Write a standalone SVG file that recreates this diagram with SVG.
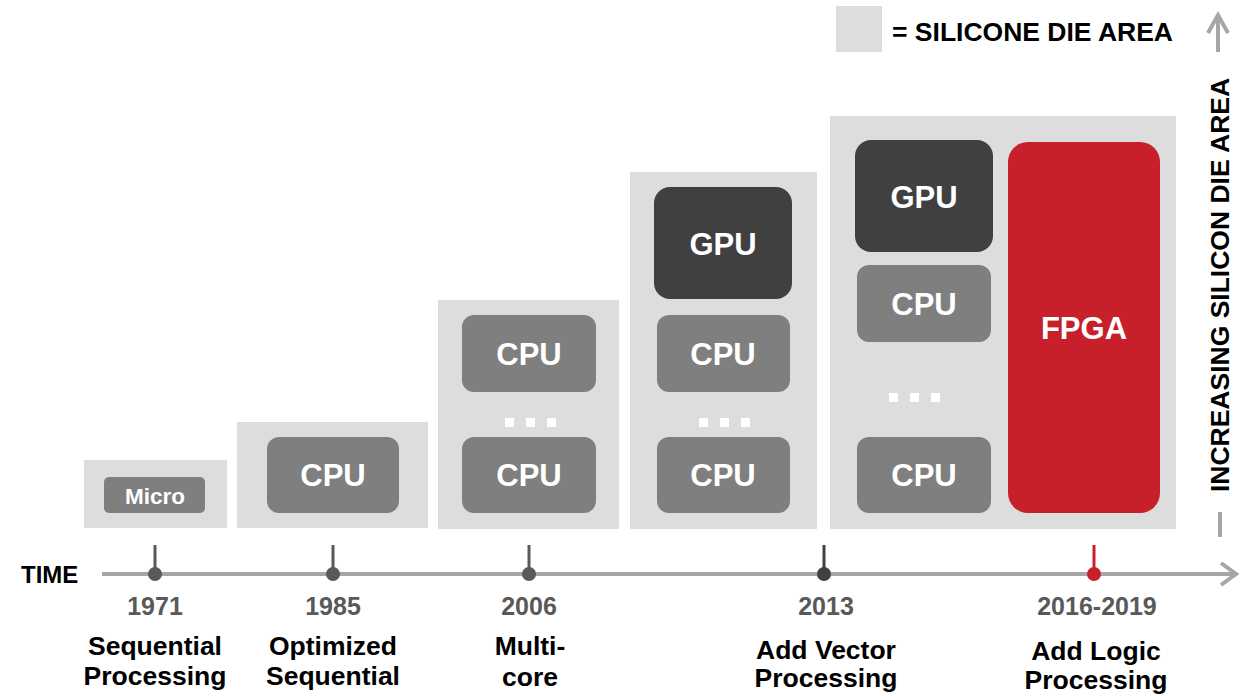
<svg xmlns="http://www.w3.org/2000/svg" width="1242" height="696" viewBox="0 0 1242 696">
  <style>
    text { font-family: "Liberation Sans", Arial, sans-serif; font-weight: bold; }
    .die { fill: #dddddd; }
    .cpu { fill: #7f7f7f; }
    .gpu { fill: #404040; }
    .fpga { fill: #c8202a; }
    .lbl { fill: #ffffff; font-size: 31px; text-anchor: middle; }
    .dot { fill: #ffffff; }
    .axis { stroke: #a6a6a6; stroke-width: 4; fill: none; }
    .year { fill: #595959; font-size: 25px; text-anchor: middle; }
    .desc { fill: #000000; font-size: 26.5px; text-anchor: middle; }
    .tick { stroke-width: 3; }
  </style>
  <rect width="1242" height="696" fill="#ffffff"/>

  <!-- legend -->
  <g id="legend">
    <rect class="die" x="836" y="6" width="46" height="46"/>
    <text x="892" y="41" font-size="26.5" fill="#000">= SILICONE DIE AREA</text>
  </g>

  <!-- vertical axis: increasing die area -->
  <g id="area-axis">
    <line class="axis" x1="1218" y1="52" x2="1218" y2="15"/>
    <polyline class="axis" points="1208,33 1218,15 1228,33"/>
    <line class="axis" x1="1220" y1="512" x2="1220" y2="537"/>
    <text transform="translate(1229,285) rotate(-90)" font-size="26.5" fill="#000" text-anchor="middle">INCREASING SILICON DIE AREA</text>
  </g>

  <!-- 1971 -->
  <g id="die-1971">
    <rect class="die" x="84" y="460" width="143" height="68"/>
    <rect class="cpu" x="104" y="477" width="101" height="36" rx="5"/>
    <text x="155" y="504" fill="#fff" font-size="22.5" text-anchor="middle">Micro</text>
  </g>

  <!-- 1985 -->
  <g id="die-1985">
    <rect class="die" x="237" y="422" width="191" height="106"/>
    <rect class="cpu" x="267" y="437" width="132" height="76" rx="12"/>
    <text class="lbl" x="333" y="486">CPU</text>
  </g>

  <!-- 2006 -->
  <g id="die-2006">
    <rect class="die" x="438" y="300" width="181" height="229"/>
    <rect class="cpu" x="462" y="315" width="134" height="77" rx="12"/>
    <text class="lbl" x="529" y="365">CPU</text>
    <rect class="dot" x="505" y="418" width="9" height="9"/>
    <rect class="dot" x="526" y="418" width="9" height="9"/>
    <rect class="dot" x="547" y="418" width="9" height="9"/>
    <rect class="cpu" x="462" y="437" width="134" height="76" rx="12"/>
    <text class="lbl" x="529" y="486">CPU</text>
  </g>

  <!-- 2013 -->
  <g id="die-2013">
    <rect class="die" x="630" y="172" width="187" height="357"/>
    <rect class="gpu" x="654" y="187" width="138" height="112" rx="16"/>
    <text class="lbl" x="723" y="255">GPU</text>
    <rect class="cpu" x="657" y="315" width="133" height="77" rx="12"/>
    <text class="lbl" x="723" y="365">CPU</text>
    <rect class="dot" x="699" y="418" width="9" height="9"/>
    <rect class="dot" x="720" y="418" width="9" height="9"/>
    <rect class="dot" x="741" y="418" width="9" height="9"/>
    <rect class="cpu" x="657" y="437" width="133" height="76" rx="12"/>
    <text class="lbl" x="723" y="486">CPU</text>
  </g>

  <!-- 2016-2019 -->
  <g id="die-2016">
    <rect class="die" x="830" y="116" width="346" height="413"/>
    <rect class="gpu" x="855" y="140" width="138" height="112" rx="16"/>
    <text class="lbl" x="924" y="208">GPU</text>
    <rect class="cpu" x="857" y="265" width="134" height="77" rx="12"/>
    <text class="lbl" x="924" y="315">CPU</text>
    <rect class="dot" x="889" y="393" width="9" height="9"/>
    <rect class="dot" x="910" y="393" width="9" height="9"/>
    <rect class="dot" x="931" y="393" width="9" height="9"/>
    <rect class="cpu" x="857" y="437" width="134" height="76" rx="12"/>
    <text class="lbl" x="924" y="486">CPU</text>
    <rect class="fpga" x="1008" y="142" width="152" height="371" rx="20"/>
    <text class="lbl" x="1084" y="339">FPGA</text>
  </g>

  <!-- time axis and milestones -->
  <g id="connectors">
    <line class="axis" x1="102" y1="574" x2="1236" y2="574"/>
    <polyline class="axis" points="1221,563 1236,574 1221,585"/>
    <g class="tick">
      <line x1="155" y1="545" x2="155" y2="574" stroke="#595959"/>
      <circle cx="155" cy="574" r="7" fill="#595959"/>
      <line x1="333" y1="545" x2="333" y2="574" stroke="#595959"/>
      <circle cx="333" cy="574" r="7" fill="#595959"/>
      <line x1="529" y1="545" x2="529" y2="574" stroke="#595959"/>
      <circle cx="529" cy="574" r="7" fill="#595959"/>
      <line x1="824" y1="545" x2="824" y2="574" stroke="#404040"/>
      <circle cx="824" cy="574" r="7" fill="#404040"/>
      <line x1="1094" y1="545" x2="1094" y2="574" stroke="#c8202a"/>
      <circle cx="1094" cy="574" r="7" fill="#c8202a"/>
    </g>
  </g>

  <g id="timeline-labels">
    <text x="21" y="583" font-size="24" fill="#000">TIME</text>

    <text class="year" x="155" y="615">1971</text>
    <text class="desc" x="155" y="655">Sequential</text>
    <text class="desc" x="155" y="685">Processing</text>

    <text class="year" x="333" y="615">1985</text>
    <text class="desc" x="333" y="655">Optimized</text>
    <text class="desc" x="333" y="685">Sequential</text>

    <text class="year" x="529" y="615">2006</text>
    <text class="desc" x="530" y="655">Multi-</text>
    <text class="desc" x="530" y="686">core</text>

    <text class="year" x="826" y="615">2013</text>
    <text class="desc" x="826" y="659">Add Vector</text>
    <text class="desc" x="826" y="687">Processing</text>

    <text class="year" x="1097" y="615">2016-2019</text>
    <text class="desc" x="1096" y="660">Add Logic</text>
    <text class="desc" x="1096" y="689">Processing</text>
  </g>
</svg>
